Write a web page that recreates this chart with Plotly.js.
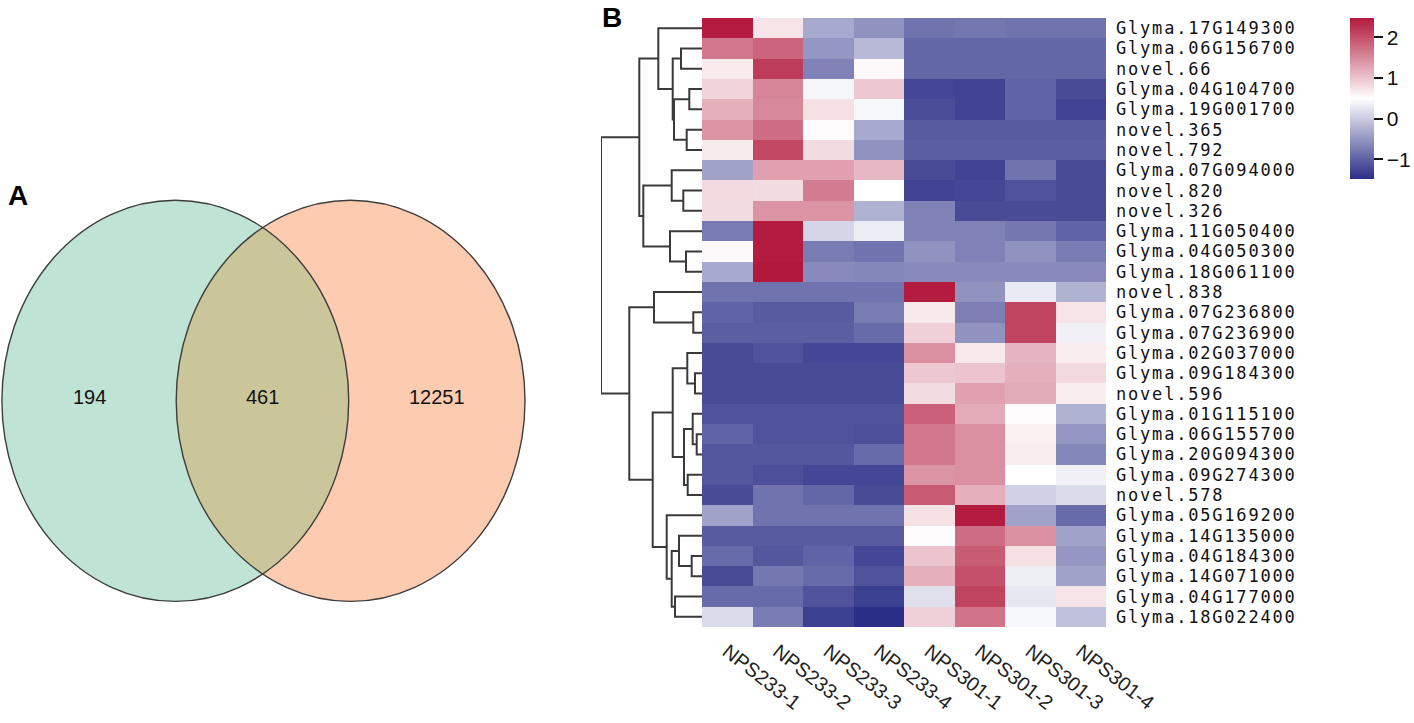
<!DOCTYPE html>
<html><head><meta charset="utf-8">
<script src="https://cdn.plot.ly/plotly-3.0.1.min.js"></script>
<style>
html,body{margin:0;padding:0;background:#fff}
#chart{width:1414px;height:723px}
#chart .yaxislayer-above .ytick text{letter-spacing:1.8px}
</style>
</head><body><div id="chart"></div>
<script>
// ---------------- data ----------------
const samples = ['NPS233-1','NPS233-2','NPS233-3','NPS233-4','NPS301-1','NPS301-2','NPS301-3','NPS301-4'];
const genes = ['Glyma.17G149300','Glyma.06G156700','novel.66','Glyma.04G104700','Glyma.19G001700','novel.365','novel.792','Glyma.07G094000','novel.820','novel.326','Glyma.11G050400','Glyma.04G050300','Glyma.18G061100','novel.838','Glyma.07G236800','Glyma.07G236900','Glyma.02G037000','Glyma.09G184300','novel.596','Glyma.01G115100','Glyma.06G155700','Glyma.20G094300','Glyma.09G274300','novel.578','Glyma.05G169200','Glyma.14G135000','Glyma.04G184300','Glyma.14G071000','Glyma.04G177000','Glyma.18G022400'];
const zScores = [
  [2.44, 0.72, -0.32, -0.54, -0.84, -0.80, -0.84, -0.84],
  [1.65, 1.82, -0.50, -0.17, -0.95, -0.95, -0.95, -0.95],
  [0.67, 2.16, -0.69, 0.55, -0.95, -0.95, -0.95, -0.95],
  [0.86, 1.54, 0.41, 0.96, -1.25, -1.29, -0.99, -1.21],
  [1.17, 1.51, 0.76, 0.42, -1.19, -1.29, -0.99, -1.29],
  [1.41, 1.75, 0.52, -0.32, -1.06, -1.06, -1.06, -1.06],
  [0.66, 2.06, 0.79, -0.54, -1.03, -1.03, -1.03, -1.03],
  [-0.39, 1.30, 1.30, 1.10, -1.21, -1.29, -0.84, -1.21],
  [0.82, 0.79, 1.61, 0.49, -1.29, -1.25, -1.14, -1.21],
  [0.79, 1.41, 1.41, -0.24, -0.69, -1.21, -1.21, -1.21],
  [-0.76, 2.44, 0.09, 0.31, -0.69, -0.69, -0.80, -0.99],
  [0.55, 2.44, -0.76, -0.84, -0.54, -0.69, -0.54, -0.76],
  [-0.32, 2.47, -0.62, -0.65, -0.62, -0.62, -0.62, -0.62],
  [-0.84, -0.84, -0.84, -0.84, 2.44, -0.54, 0.29, -0.24],
  [-0.99, -1.06, -1.06, -0.76, 0.69, -0.73, 2.10, 0.72],
  [-1.03, -1.03, -1.03, -0.91, 0.89, -0.54, 2.10, 0.35],
  [-1.21, -1.14, -1.25, -1.25, 1.44, 0.69, 1.13, 0.64],
  [-1.21, -1.21, -1.21, -1.21, 0.96, 1.00, 1.17, 0.82],
  [-1.21, -1.21, -1.21, -1.21, 0.79, 1.30, 1.20, 0.64],
  [-1.14, -1.14, -1.14, -1.14, 1.85, 1.22, 0.52, -0.24],
  [-0.99, -1.14, -1.14, -1.17, 1.65, 1.44, 0.62, -0.50],
  [-1.10, -1.10, -1.10, -0.91, 1.65, 1.44, 0.64, -0.65],
  [-1.10, -1.17, -1.25, -1.25, 1.41, 1.44, 0.49, 0.35],
  [-1.21, -0.84, -0.95, -1.21, 1.90, 1.18, 0.05, 0.16],
  [-0.39, -0.84, -0.84, -0.84, 0.76, 2.44, -0.39, -0.91],
  [-1.06, -1.06, -1.06, -1.06, 0.52, 1.75, 1.44, -0.39],
  [-0.91, -1.10, -0.99, -1.25, 1.00, 1.89, 0.76, -0.50],
  [-1.21, -0.80, -0.91, -1.14, 1.17, 1.99, 0.33, -0.39],
  [-0.91, -0.91, -1.14, -1.32, 0.20, 2.10, 0.26, 0.72],
  [0.16, -0.76, -1.32, -1.49, 0.89, 1.68, 0.42, -0.10]
];
const colorTicks = [-1, 0, 1, 2];
const colorTickText = ['\u22121', '0', '1', '2'];
// row dendrogram: [left, right, mergeHeight]; leaves are row indices
const rowTree = [
  [
    [0, [[1, 2, 21], [[3, 4, 12.7], [5, 6, 15.3], 28], 29.3], 43.7],
    [[7, [8, 9, 18.7], 30.3], [10, [11, 12, 16], 32], 58.7],
    62.7
  ],
  [
    [13, [14, 15, 8.7], 48],
    [
      [[16, [17, 18, 7], 14.7], [[19, [20, 21, 5.3], 9.3], [22, 23, 14.3], 18], 29.3],
      [24, [[25, [26, 27, 10.3], 23], [28, 29, 27], 30.3], 35.3],
      49.3
    ],
    72.7
  ],
  101
];
const vennLabels = ['194', '461', '12251'];

// ---------------- layout constants ----------------
const W = 1414, H = 723;
const px = v => v / W, py = v => 1 - v / H;
const heat = {x0: 702, x1: 1106, y0: 18, y1: 627};
const dendroLeft = 601;
const venn = [
  {cx: 175.3, cy: 400.8, rx: 173.4, ry: 200.6, fill: '#bfe3d4'},
  {cx: 350.6, cy: 400.8, rx: 174.4, ry: 200.6, fill: '#fccbb0'}
];
const lensFill = '#cbc59a';
const vennTextX = [89, 262, 437], vennTextY = 397;

// ---------------- dendrogram segments ----------------
const dx = [], dy = [];
function walk(node) {
  if (typeof node === 'number') return {y: node, h: 0};
  const a = walk(node[0]), b = walk(node[1]), h = node[2];
  dx.push(a.h, h, h, b.h, null);
  dy.push(a.y, a.y, b.y, b.y, null);
  return {y: (a.y + b.y) / 2, h: h};
}
walk(rowTree);

// ---------------- venn lens ----------------
function inside(e, x, y) { return ((x - e.cx) / e.rx) ** 2 + ((y - e.cy) / e.ry) ** 2 <= 1; }
const N = 1440, lens = [];
for (let i = 0; i <= N; i++) {
  const t = Math.PI / 2 + Math.PI * i / N;
  const x = venn[1].cx + venn[1].rx * Math.cos(t), y = venn[1].cy + venn[1].ry * Math.sin(t);
  if (inside(venn[0], x, y)) lens.push([x, y]);
}
for (let i = 0; i <= N; i++) {
  const t = -Math.PI / 2 + Math.PI * i / N;
  const x = venn[0].cx + venn[0].rx * Math.cos(t), y = venn[0].cy + venn[0].ry * Math.sin(t);
  if (inside(venn[1], x, y)) lens.push([x, y]);
}
const lensPath = 'M' + lens.map(p => p[0].toFixed(2) + ',' + p[1].toFixed(2)).join('L') + 'Z';

const shapes = [];
venn.forEach(e => shapes.push({type: 'circle', xref: 'x3', yref: 'y3', x0: e.cx - e.rx, x1: e.cx + e.rx, y0: e.cy - e.ry, y1: e.cy + e.ry, fillcolor: e.fill, line: {width: 0}, layer: 'above'}));
shapes.push({type: 'path', xref: 'x3', yref: 'y3', path: lensPath, fillcolor: lensFill, line: {width: 0}, layer: 'above'});
venn.forEach(e => shapes.push({type: 'circle', xref: 'x3', yref: 'y3', x0: e.cx - e.rx, x1: e.cx + e.rx, y0: e.cy - e.ry, y1: e.cy + e.ry, fillcolor: 'rgba(0,0,0,0)', line: {width: 1.4, color: '#3d3d3d'}, layer: 'above'}));

const rowIdx = genes.map((g, i) => i);

const traces = [
  {
    type: 'heatmap', z: zScores, x: samples, y: rowIdx, xaxis: 'x', yaxis: 'y',
    zmin: -1.49, zmax: 2.47,
    colorscale: [[0, '#2a2e86'], [0.5, '#ffffff'], [1, '#b2183c']],
    hoverinfo: 'none',
    colorbar: {
      x: px(1350), xanchor: 'left', xpad: 0, y: py(18.3), yanchor: 'top', ypad: 0,
      thickness: 24, thicknessmode: 'pixels', len: 161, lenmode: 'pixels',
      outlinewidth: 0, tickmode: 'array', tickvals: colorTicks, ticktext: colorTickText,
      ticks: 'outside', ticklen: 9, tickwidth: 2, tickcolor: '#111',
      tickfont: {family: 'Liberation Sans, Arial, sans-serif', size: 21, color: '#111'}
    }
  },
  {
    type: 'scatter', mode: 'lines', x: dx, y: dy, xaxis: 'x2', yaxis: 'y',
    line: {color: '#3a3a3a', width: 2}, hoverinfo: 'none', cliponaxis: false, showlegend: false
  }
];

const layout = {
  width: W, height: H, margin: {l: 0, r: 0, t: 0, b: 0},
  paper_bgcolor: '#fff', plot_bgcolor: 'rgba(0,0,0,0)', showlegend: false,
  xaxis: {
    domain: [px(heat.x0), px(heat.x1)], anchor: 'y', type: 'category',
    tickangle: 38, ticks: '', showgrid: false, zeroline: false, showline: false,
    tickfont: {family: 'Liberation Sans, Arial, sans-serif', size: 20, color: '#222'},
    ticklabelstandoff: 8
  },
  yaxis: {
    domain: [py(heat.y1), py(heat.y0)], anchor: 'x', side: 'right',
    range: [genes.length - 0.5, -0.5], tickmode: 'array', tickvals: rowIdx, ticktext: genes,
    ticks: '', showgrid: false, zeroline: false, showline: false,
    tickfont: {family: 'DejaVu Sans Mono, monospace', size: 17, color: '#111'},
    ticklabelstandoff: 9
  },
  xaxis2: {
    domain: [px(dendroLeft), px(heat.x0)], anchor: 'y', range: [rowTree[2], 0],
    showticklabels: false, ticks: '', showgrid: false, zeroline: false, showline: false
  },
  xaxis3: {domain: [0, px(600)], anchor: 'y3', range: [0, 600], visible: false},
  yaxis3: {domain: [0, 1], anchor: 'x3', range: [H, 0], visible: false},
  shapes: shapes,
  annotations: [
    ...vennLabels.map((t, i) => ({xref: 'x3', yref: 'y3', x: vennTextX[i], y: vennTextY, text: t, showarrow: false,
      font: {family: 'Liberation Sans, Arial, sans-serif', size: 20, color: '#111'}})),
    {xref: 'paper', yref: 'paper', x: px(6), y: py(178), xanchor: 'left', yanchor: 'top', text: '<b>A</b>', showarrow: false,
      font: {family: 'Liberation Sans, Arial, sans-serif', size: 28, color: '#000'}},
    {xref: 'paper', yref: 'paper', x: px(600), y: py(0), xanchor: 'left', yanchor: 'top', text: '<b>B</b>', showarrow: false,
      font: {family: 'Liberation Sans, Arial, sans-serif', size: 28, color: '#000'}}
  ]
};

Plotly.newPlot('chart', traces, layout, {displayModeBar: false, staticPlot: true});
</script>
</body></html>
